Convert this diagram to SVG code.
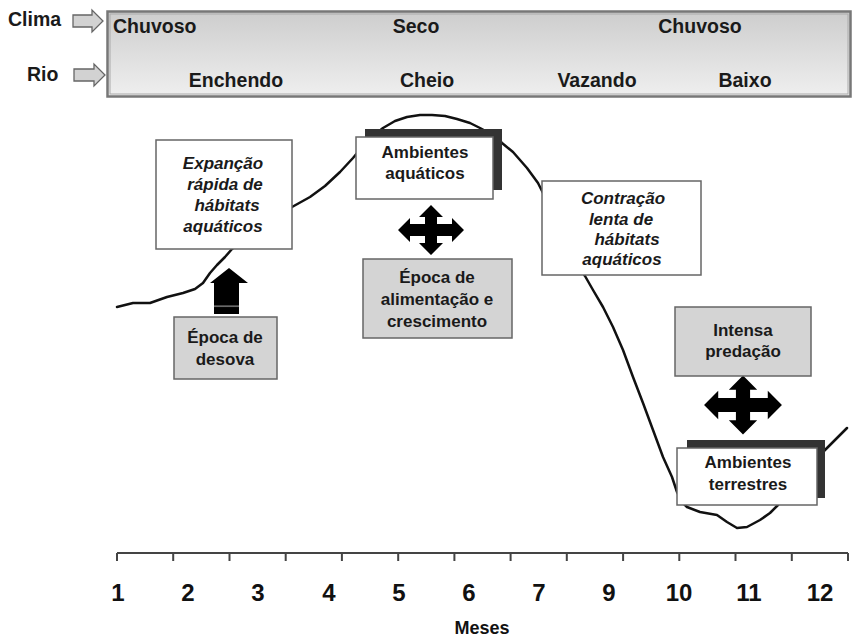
<svg xmlns="http://www.w3.org/2000/svg" width="855" height="640" viewBox="0 0 855 640">
<defs>
<linearGradient id="hdr" x1="0" y1="0" x2="0" y2="1">
<stop offset="0" stop-color="#cdcdcd"/>
<stop offset="1" stop-color="#efefef"/>
</linearGradient>
<linearGradient id="upg" x1="0" y1="0" x2="0" y2="1">
<stop offset="0" stop-color="#000"/>
<stop offset="0.8" stop-color="#000"/>
<stop offset="0.83" stop-color="#888"/>
<stop offset="0.86" stop-color="#000"/>
<stop offset="1" stop-color="#000"/>
</linearGradient>
<path id="cross" d="M0,-25 L12,-13 L6,-13 L6,-6 L21,-6 L21,-12 L33,0 L21,12 L21,6 L6,6 L6,13 L12,13 L0,25 L-12,13 L-6,13 L-6,6 L-21,6 L-21,12 L-33,0 L-21,-12 L-21,-6 L-6,-6 L-6,-13 L-12,-13 Z"/>
</defs>
<style>
text{font-family:"Liberation Sans",Arial,sans-serif;font-weight:bold;fill:#1a1a1a}
.hd{font-size:19.5px}
.bx{font-size:17px;text-anchor:middle}
.it{font-style:italic}
.wbox{fill:#fff;stroke:#666;stroke-width:1.5}
.gbox{fill:#d4d4d4;stroke:#666;stroke-width:1.5}
.shadow{fill:#333}
.harrow{fill:#d2d2d2;stroke:#666;stroke-width:1.3}
.curve{fill:none;stroke:#111;stroke-width:2.5;stroke-linejoin:round;stroke-linecap:round}
.num{font-family:"Liberation Sans Narrow","Liberation Sans",Arial,sans-serif;font-size:24px;text-anchor:middle;fill:#111}
</style>

<rect width="855" height="640" fill="#fff"/>

<g id="header">
<rect x="107.5" y="11.5" width="743" height="85" fill="url(#hdr)" stroke="#777" stroke-width="2.5"/>
<rect x="110" y="14" width="738" height="80" fill="none" stroke="#aaa" stroke-width="1"/>
<text class="hd" x="113" y="33">Chuvoso</text>
<text class="hd" x="416" y="33" text-anchor="middle">Seco</text>
<text class="hd" x="700" y="33" text-anchor="middle">Chuvoso</text>
<text class="hd" x="236" y="87" text-anchor="middle">Enchendo</text>
<text class="hd" x="427" y="87" text-anchor="middle">Cheio</text>
<text class="hd" x="597" y="87" text-anchor="middle">Vazando</text>
<text class="hd" x="745" y="87" text-anchor="middle">Baixo</text>
</g>

<g id="clima">
<text class="hd" x="8" y="26">Clima</text>
<path class="harrow" d="M73,15 H92 V10 L103,21 L92,32 V27 H73 Z"/>
</g>
<g id="rio">
<text class="hd" x="27" y="81">Rio</text>
<path class="harrow" d="M74,69 H94 V64 L105,75 L94,86 V81 H74 Z"/>
</g>

<g id="connectors">
<path class="curve" d="M117,307 L133,303 L150,303 L167,297 L183,293 L195,289 L203,283 L210,273 L217,265 L225,257 L232,249 L260,228 L292,207 L310,197 L325,186 L340,172 L353,158 L368,140 L383,128 L395,121 L407,117 L420,115 L432,115 L445,116 L457,119 L470,123 L480,128 L495,136 L502,143 L513,152 L527,168 L538,183 L544,195 L560,230 L575,260 L585,276 L593,290 L603,307 L613,327 L623,350 L633,377 L643,403 L653,430 L663,457 L672,477 L677,492 L682,502 L687,507 L700,512 L717,515 L727,522 L737,528 L747,527 L760,520 L770,513 L778,505 L800,475 L825,450 L847,428"/>
<path d="M229,268 L248,283 L239,283 L239,314 L214,314 L214,283 L210,283 Z" fill="url(#upg)"/>
<use href="#cross" transform="translate(431,230)"/>
<use href="#cross" transform="translate(743,405) scale(1.18)"/>
</g>

<g id="expansao">
<rect class="wbox" x="156" y="140" width="136" height="109"/>
<text class="bx it" x="223" y="169">Expanção</text>
<text class="bx it" x="225" y="190">rápida de</text>
<text class="bx it" x="227" y="211">hábitats</text>
<text class="bx it" x="223" y="232">aquáticos</text>
</g>

<g id="ambientes-aquaticos">
<rect class="shadow" x="365" y="129" width="137" height="61"/>
<rect class="wbox" x="356" y="137" width="137" height="62"/>
<text class="bx" x="425" y="158">Ambientes</text>
<text class="bx" x="425" y="179">aquáticos</text>
</g>

<g id="alimentacao">
<rect class="gbox" x="363" y="259" width="149" height="79"/>
<text class="bx" x="437" y="283">Época de</text>
<text class="bx" x="437" y="305">alimentação e</text>
<text class="bx" x="437" y="327">crescimento</text>
</g>

<g id="desova">
<rect class="gbox" x="174" y="317" width="103" height="62"/>
<text class="bx" x="225" y="343">Época de</text>
<text class="bx" x="225" y="365">desova</text>
</g>

<g id="contracao">
<rect class="wbox" x="542" y="181" width="159" height="94"/>
<text class="bx it" x="623" y="204">Contração</text>
<text class="bx it" x="621" y="225">lenta de</text>
<text class="bx it" x="627" y="245">hábitats</text>
<text class="bx it" x="622" y="265">aquáticos</text>
</g>

<g id="predacao">
<rect class="gbox" x="675" y="307" width="136" height="69"/>
<text class="bx" x="743" y="336">Intensa</text>
<text class="bx" x="743" y="357">predação</text>
</g>

<g id="ambientes-terrestres">
<rect class="shadow" x="687" y="440" width="138" height="58"/>
<rect class="wbox" x="677" y="448" width="140" height="57"/>
<text class="bx" x="748" y="468">Ambientes</text>
<text class="bx" x="748" y="490">terrestres</text>
</g>

<g id="axis" stroke="#444" stroke-width="2">
<line x1="117" y1="553" x2="848" y2="553"/>
<path d="M117,553 v8 M173.2,553 v8 M229.5,553 v8 M285.7,553 v8 M341.9,553 v8 M398.2,553 v8 M454.4,553 v8 M510.6,553 v8 M566.8,553 v8 M623.1,553 v8 M679.3,553 v8 M735.5,553 v8 M791.8,553 v8 M848,553 v8"/>
</g>
<g id="axis-labels">
<text class="num" x="118" y="601">1</text>
<text class="num" x="188" y="601">2</text>
<text class="num" x="258" y="601">3</text>
<text class="num" x="329" y="601">4</text>
<text class="num" x="399" y="601">5</text>
<text class="num" x="469" y="601">6</text>
<text class="num" x="539" y="601">7</text>
<text class="num" x="609" y="601">9</text>
<text class="num" x="679" y="601">10</text>
<text class="num" x="749" y="601">11</text>
<text class="num" x="820" y="601">12</text>
<text class="num" x="482" y="634" style="font-size:18px">Meses</text>
</g>
</svg>
